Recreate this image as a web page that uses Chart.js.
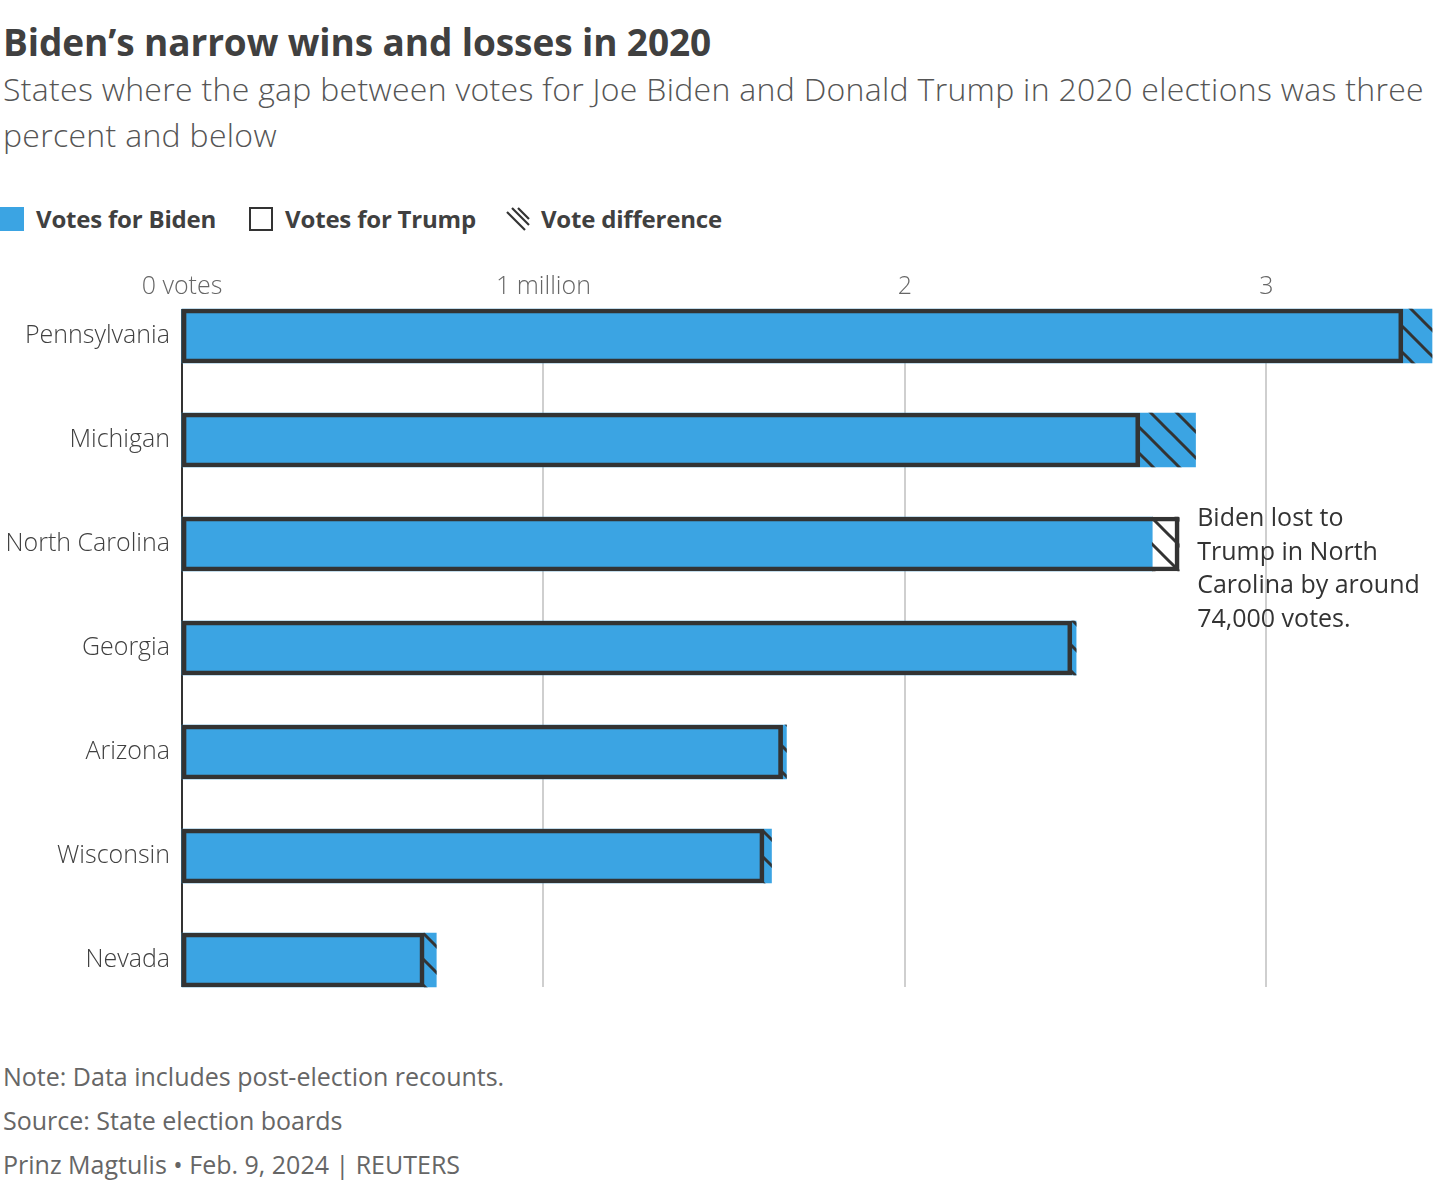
<!DOCTYPE html>
<html>
<head>
<meta charset="utf-8">
<script src="https://cdn.jsdelivr.net/npm/chart.js@4.4.1/dist/chart.umd.min.js"></script>
<style>
  html, body { margin: 0; padding: 0; background: #fff; }
  body { width: 1440px; height: 1180px; position: relative; font-family: "Open Sans", sans-serif; overflow: hidden; }
  .t { position: absolute; left: 3px; white-space: nowrap; }
  #title { top: 16px; font-size: 37px; font-weight: 700; color: #404040; letter-spacing: -0.1px; }
  #sub { top: 66px; font-size: 32px; font-weight: 300; color: #555; line-height: 46px; letter-spacing: 0.3px; }
  #legend { position: absolute; top: 202px; left: 0; display: flex; align-items: center; font-size: 24px; font-weight: 700; color: #404040; letter-spacing: -0.2px; }
  .sw { width: 24px; height: 24px; box-sizing: border-box; margin-right: 12px; }
  .item { display: flex; align-items: center; margin-right: 30px; }
  .foot { position: absolute; left: 3px; font-size: 25px; color: #666; white-space: nowrap; }
  #wrap { position: absolute; left: 0; top: 250px; width: 1440px; height: 770px; }
</style>
</head>
<body>
<div class="t" id="title">Biden’s narrow wins and losses in 2020</div>
<div class="t" id="sub">States where the gap between votes for Joe Biden and Donald Trump in 2020 elections was three<br>percent and below</div>
<div id="legend">
  <div class="item" style="margin-right:33px"><div class="sw" style="background:#3BA4E3"></div>Votes for Biden</div>
  <div class="item"><div class="sw" style="border:2.5px solid #333;background:#fff"></div>Votes for Trump</div>
  <div class="item"><canvas id="hatchIcon" width="24" height="24" style="margin-right:11px"></canvas>Vote difference</div>
</div>
<div id="wrap"><canvas id="chart"></canvas></div>
<div class="foot" style="top:1059px">Note: Data includes post-election recounts.</div>
<div class="foot" style="top:1103px">Source: State election boards</div>
<div class="foot" style="top:1147px">Prinz Magtulis • Feb. 9, 2024 | REUTERS</div>
<script>
const states = ['Pennsylvania', 'Michigan', 'North Carolina', 'Georgia', 'Arizona', 'Wisconsin', 'Nevada'];
const bidenVotes = [3458229, 2804040, 2684292, 2473633, 1672143, 1630866, 703486];
const trumpVotes = [3377674, 2649852, 2758775, 2461854, 1661686, 1610184, 669890];
const xTickValues = [0, 1000000, 2000000, 3000000];
const xTickLabels = ['0 votes', '1 million', '2', '3'];
const noteLines = ['Biden lost to', 'Trump in North', 'Carolina by around', '74,000 votes.'];
const noteState = 'North Carolina';

const BLUE = '#3BA4E3';
const DARK = '#333333';
const FONT = '"Open Sans", sans-serif';

function makeHatch(size, lw) {
  const c = document.createElement('canvas');
  c.width = size; c.height = size;
  const g = c.getContext('2d');
  g.strokeStyle = DARK; g.lineWidth = lw;
  for (let k = -1; k <= 1; k++) {
    g.beginPath();
    g.moveTo(k * size - 2, -2);
    g.lineTo(k * size + size + 2, size + 2);
    g.stroke();
  }
  return c;
}
const ctx = document.getElementById('chart').getContext('2d');
const hatch = ctx.createPattern(makeHatch(26, 3), 'repeat');

// legend icon
(function () {
  const g = document.getElementById('hatchIcon').getContext('2d');
  g.strokeStyle = DARK; g.lineWidth = 2.2;
  g.beginPath(); g.moveTo(1, 5); g.lineTo(19, 23); g.stroke();
  g.beginPath(); g.moveTo(6, 1); g.lineTo(23, 18); g.stroke();
  g.beginPath(); g.moveTo(12, 1); g.lineTo(23, 12); g.stroke();
})();

const diffRanges = states.map((s, i) => [Math.min(bidenVotes[i], trumpVotes[i]), Math.max(bidenVotes[i], trumpVotes[i])]);
const BAR = 54;

const gridPlugin = {
  id: 'gridPlugin',
  beforeDatasetsDraw(chart) {
    const x = chart.scales.x, y = chart.scales.y, c = chart.ctx;
    const top = y.getPixelForValue(0) - BAR / 2;
    const bottom = y.getPixelForValue(states.length - 1) + BAR / 2;
    c.save();
    x.ticks.forEach(t => {
      const px = Math.round(x.getPixelForValue(t.value));
      c.beginPath();
      c.strokeStyle = t.value === 0 ? DARK : '#cfcfcf';
      c.lineWidth = 2;
      c.moveTo(px, top); c.lineTo(px, bottom); c.stroke();
    });
    c.restore();
  },
  afterDatasetsDraw(chart) {
    const x = chart.scales.x, y = chart.scales.y, c = chart.ctx;
    const i = states.indexOf(noteState);
    const px = x.getPixelForValue(Math.max(bidenVotes[i], trumpVotes[i])) + 18;
    const py = y.getPixelForValue(i) - 25;
    c.save();
    c.font = '400 25px ' + FONT;
    c.fillStyle = '#333';
    c.textBaseline = 'middle';
    c.textAlign = 'left';
    noteLines.forEach((l, k) => c.fillText(l, px, py + k * 33.6));
    c.restore();
  }
};

new Chart(ctx, {
  type: 'bar',
  data: {
    labels: states,
    datasets: [
      { label: 'Votes for Trump', data: trumpVotes, backgroundColor: 'rgba(0,0,0,0)', borderColor: DARK, borderWidth: 4, borderSkipped: false, order: 0 },
      { label: 'Vote difference', data: diffRanges, backgroundColor: hatch, borderWidth: 0, order: 1 },
      { label: 'Votes for Biden', data: bidenVotes, backgroundColor: BLUE, borderWidth: 0, order: 2 }
    ]
  },
  options: {
    indexAxis: 'y',
    responsive: true,
    maintainAspectRatio: false,
    animation: false,
    events: [],
    datasets: { bar: { grouped: false, barThickness: BAR, clip: false } },
    layout: { padding: { top: 0, right: 8, bottom: 60, left: 0 } },
    plugins: { legend: { display: false }, tooltip: { enabled: false } },
    scales: {
      x: {
        position: 'top',
        min: 0,
        max: Math.max(...bidenVotes, ...trumpVotes),
        afterBuildTicks: s => { s.ticks = xTickValues.map(v => ({ value: v })); },
        afterFit: s => { s.height = 86; },
        grid: { display: false, drawTicks: false },
        border: { display: false },
        ticks: {
          padding: 34,
          color: '#666',
          font: { family: FONT, size: 25, weight: 300 },
          callback: (v, idx) => xTickLabels[idx]
        }
      },
      y: {
        offset: false,
        afterFit: s => { s.width = 182; },
        grid: { display: false, drawTicks: false },
        border: { display: false },
        ticks: {
          padding: 12,
          color: '#404040',
          font: { family: FONT, size: 25, weight: 300 }
        }
      }
    }
  },
  plugins: [gridPlugin]
});
</script>
</body>
</html>
